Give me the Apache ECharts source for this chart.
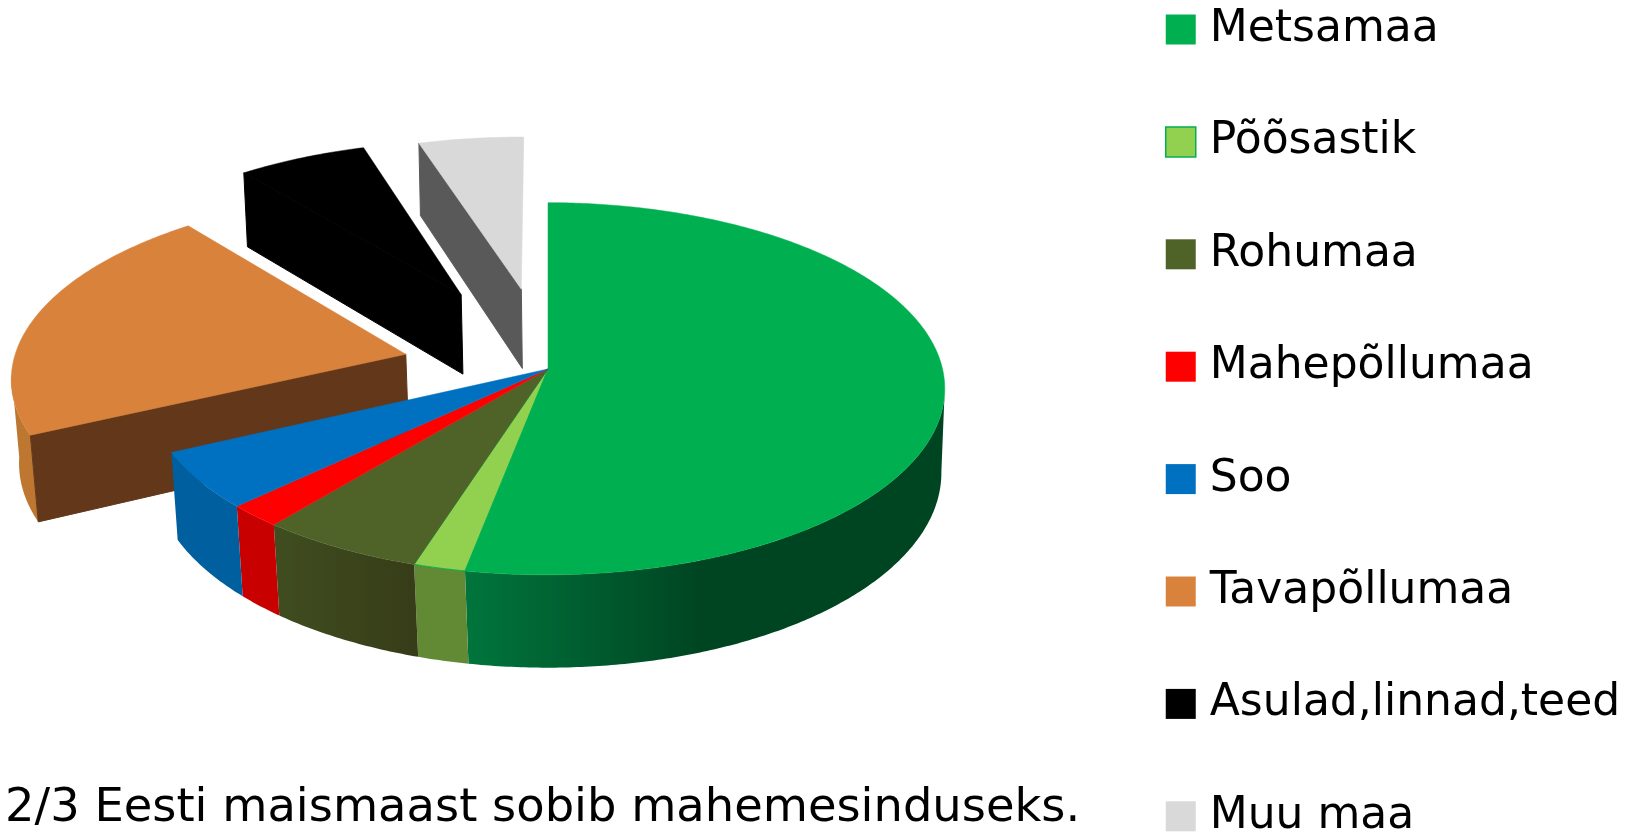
<!DOCTYPE html>
<html>
<head>
<meta charset="utf-8">
<style>
  html, body { margin: 0; padding: 0; background: #fff; }
  #chart { width: 1630px; height: 835px; }
</style>
<script src="https://cdn.jsdelivr.net/npm/echarts@6/dist/echarts.min.js"></script>
</head>
<body>
<div id="chart"></div>
<script>
// share of land, percent
const categories = ['Metsamaa', 'Põõsastik', 'Rohumaa', 'Mahepõllumaa', 'Soo', 'Tavapõllumaa', 'Asulad,linnad,teed', 'Muu maa']
const values = [53, 1.9, 6, 2, 5, 21.2, 6.0, 4.9]
const titleText = '2/3 Eesti maismaast sobib mahemesinduseks.'

const colors = ['#00b050', '#92d050', '#4f6228', '#ff0000', '#0070c0', '#d8823c', '#000000', '#d9d9d9']
const FONT = '"DejaVu Sans", sans-serif'

// pulled out slices, in pie radii
const explode = [0, 0, 0, 0, 0, 0.37, 0.48, 0.46]
const radiusScale = [1, 1, 1, 1, 1, 0.985, 1, 1]

// outer wall colours, radial wall only for the pulled out ones
const greenWall = {
  type: 'linear', global: true, x: 465, y: 0, x2: 700, y2: 0,
  colorStops: [{ offset: 0, color: '#00753c' }, { offset: 1, color: '#004522' }]
}
const oliveWall = {
  type: 'linear', global: true, x: 270, y: 0, x2: 410, y2: 0,
  colorStops: [{ offset: 0, color: '#404e20' }, { offset: 1, color: '#373d18' }]
}
const outerWall = [greenWall, '#628a35', oliveWall, '#c80000', '#005f9e', '#bd7730', '#000000', '#b0b0b0']
const radialWall = [null, null, null, null, null, '#63381a', '#000000', '#595959']

// projection of the tilted pie
const cx = 548, cy = 369
const rx = 396.5, ry = 184, depth = 83
const persp = 0.106, perspX = 0.005
const bottomScale = 0.988, bottomShift = 1.25

// the outer wall shows only between the two silhouette angles
const frontFrom = Math.PI / 2 + persp
const frontTo = Math.PI * 1.5 - persp

function project(u, v, lower) {
  const w = 1 + persp * v + perspX * u
  const k = lower ? bottomScale : 1
  const x = cx + rx * u * k / w + (lower ? bottomShift * Math.max(0, 1 - v) : 0)
  return [x, cy - ry * v / w + (lower ? depth / w : 0)]
}

const total = values.reduce((a, b) => a + b, 0)
const startAngles = []
values.reduce((acc, v, i) => {
  startAngles[i] = acc / total * Math.PI * 2
  return acc + v
}, 0)

function renderSlice(i, api) {
  const a0 = startAngles[i]
  const a1 = a0 + api.value(0) / total * Math.PI * 2
  const mid = (a0 + a1) / 2
  const ox = Math.sin(mid) * explode[i]
  const oy = Math.cos(mid) * explode[i]
  const r = radiusScale[i]

  const arc = (from, to, lower) => {
    const steps = Math.max(2, Math.ceil((to - from) / 0.01))
    const pts = []
    for (let s = 0; s <= steps; s++) {
      const a = from + (to - from) * s / steps
      pts.push(project(ox + r * Math.sin(a), oy + r * Math.cos(a), lower))
    }
    return pts
  }

  const topArc = arc(a0, a1, false)
  const lowArc = arc(a0, a1, true)
  const apexTop = project(ox, oy, false)
  const apexLow = project(ox, oy, true)
  const border = i === 1 ? '#00b050' : colors[i]

  const children = []
  const wallFrom = Math.max(a0, frontFrom)
  const wallTo = Math.min(a1, frontTo)
  if (wallFrom < wallTo) {
    const points = arc(wallFrom, wallTo, false).concat(arc(wallFrom, wallTo, true).reverse())
    children.push({
      type: 'polygon',
      shape: { points: points },
      style: { fill: outerWall[i] }
    })
  }
  if (radialWall[i]) {
    // the edge at a0 is the one facing the viewer
    children.push({
      type: 'polygon',
      shape: { points: [apexTop, topArc[0], lowArc[0], apexLow] },
      style: { fill: radialWall[i], stroke: radialWall[i], lineWidth: 1 }
    })
  }
  children.push({
    type: 'polygon',
    shape: { points: [apexTop].concat(topArc) },
    style: { fill: colors[i], stroke: border, lineWidth: i === 1 ? 1 : 0.5 }
  })
  return { type: 'group', children: children }
}

// back slices first, the main pie covers them
const drawOrder = [7, 6, 5, 0, 1, 2, 3, 4]

const chart = echarts.init(document.getElementById('chart'))
chart.setOption({
  backgroundColor: '#ffffff',
  animation: false,
  title: {
    text: titleText,
    left: 5,
    top: 786,
    padding: 0,
    textStyle: { fontFamily: FONT, fontSize: 46.4, fontWeight: 'normal', color: '#000000' }
  },
  legend: {
    orient: 'vertical',
    left: 1165,
    top: 7.5,
    height: 880,
    padding: 0,
    itemWidth: 30,
    itemHeight: 30,
    itemGap: 68.4,
    selectedMode: false,
    icon: 'rect',
    textStyle: {
      fontFamily: FONT,
      fontSize: 44,
      color: '#000000',
      padding: [10, 0, 0, 9]
    },
    data: categories.map((name, i) => ({
      name: name,
      itemStyle: i === 1 ? { color: colors[1], borderColor: '#00b050', borderWidth: 1.5 } : { color: colors[i] }
    }))
  },
  series: drawOrder.map(i => ({
    type: 'custom',
    name: categories[i],
    coordinateSystem: 'none',
    itemStyle: { color: colors[i] },
    renderItem: (params, api) => renderSlice(i, api),
    data: [[values[i]]]
  }))
})
</script>
</body>
</html>
